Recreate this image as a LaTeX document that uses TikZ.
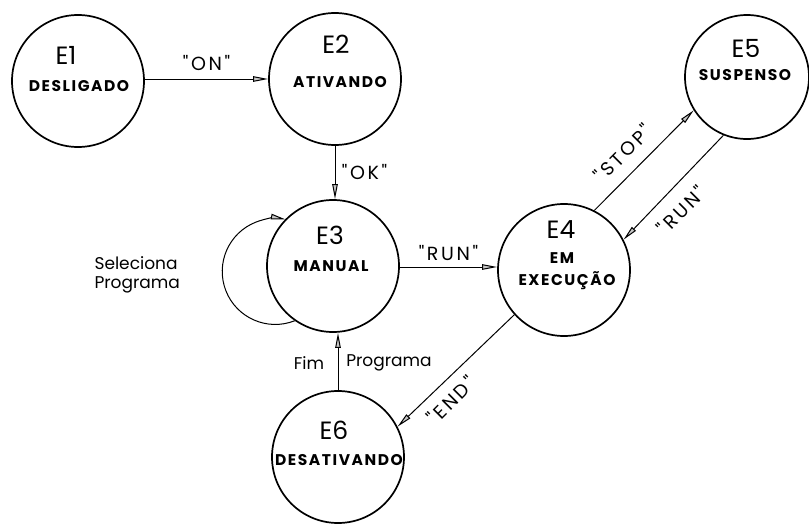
\documentclass[tikz,border=0pt]{standalone}
\usepackage{fontspec}
% plain families without the TeX quote mapping, so " stays a straight quote
\newfontfamily\pfname{Poppins}
\newfontfamily\pfdesc{Poppins}[LetterSpace=10]
\newfontfamily\pflab{Poppins}[LetterSpace=14]
\usetikzlibrary{arrows.meta}
\begin{document}
\begin{tikzpicture}[x=1pt,y=-1pt,
  state/.style={circle,draw,line width=1.7pt,minimum size=132pt,inner sep=0pt},
  sname/.style={font=\pfname\fontsize{25}{25}\selectfont},
  sdesc/.style={font=\pfdesc\bfseries\fontsize{15.5}{15.5}\selectfont},
  elab/.style={font=\pflab\fontsize{19}{19}\selectfont},
  note/.style={font=\pfname\fontsize{17}{19}\selectfont},
  arr/.style={line width=1pt,-{Triangle[length=15pt,width=5.5pt,fill=gray!45]}}]
\useasboundingbox (0,0) rectangle (809,525);

% states
\node[state] (e1) at (78,81) {};
\node[state] (e2) at (335,79) {};
\node[state] (e3) at (333,266) {};
\node[state] (e4) at (564,270) {};
\node[state,minimum size=124pt] (e5) at (747,77) {};
\node[state] (e6) at (338,457) {};

% state texts
\node[sname] (t1) at (66,55) {E1};
\node[sdesc] (d1) at (79,86) {DESLIGADO};
\node[sname] (t2) at (336,44) {E2};
\node[sdesc] (d2) at (340,82) {ATIVANDO};
\node[sname] (t3) at (330,235) {E3};
\node[sdesc] (d3) at (331,266) {MANUAL};
\node[sname] (t4) at (561,230) {E4};
\node[sdesc] (d4a) at (562,258) {EM};
\node[sdesc] (d4b) at (567,281) {EXECUÇÃO};
\node[sname] (t5) at (746,48) {E5};
\node[sdesc] (d5) at (745,75) {SUSPENSO};
\node[sname] (t6) at (334,430) {E6};
\node[sdesc] (d6) at (339,460) {DESATIVANDO};

% transitions
\draw[arr] (e1.east |- 0,79) -- (e2.west) node[elab,midway,above=5pt] (lon) {"ON"};
\draw[arr] (e2.south) -- (e3.north -| e2.south) node[elab,midway,right=3pt] (lok) {"OK"};
\draw[arr] (e3.east |- 0,267) -- (e4.west |- 0,267) node[elab,midway,above=3pt] (lrun) {"RUN"};
\draw[arr] (e4.63) -- (e5.212);
\draw[arr] (e5.248) -- (e4.27);
\draw[arr] (e4.222) -- (e6.27);
\draw[arr] (e6.north) -- (e3.south -| e6.north);
\draw[arr] (e3.235) arc[start angle=68.5,end angle=281.5,radius=53];

% rotated transition labels
\node[elab,rotate=45] (lstop) at (623,153) {"STOP"};
\node[elab,rotate=45] (lrun2) at (681,210) {"RUN"};
\node[elab,rotate=45] (lend) at (451,400) {"END"};

% loop and return labels
\node[note,align=left,anchor=west] (lsel) at (91,275) {Seleciona\\Programa};
\node[note] (lfim) at (309,363) {Fim};
\node[note] (lprog) at (389,363) {Programa};
\end{tikzpicture}
\end{document}
